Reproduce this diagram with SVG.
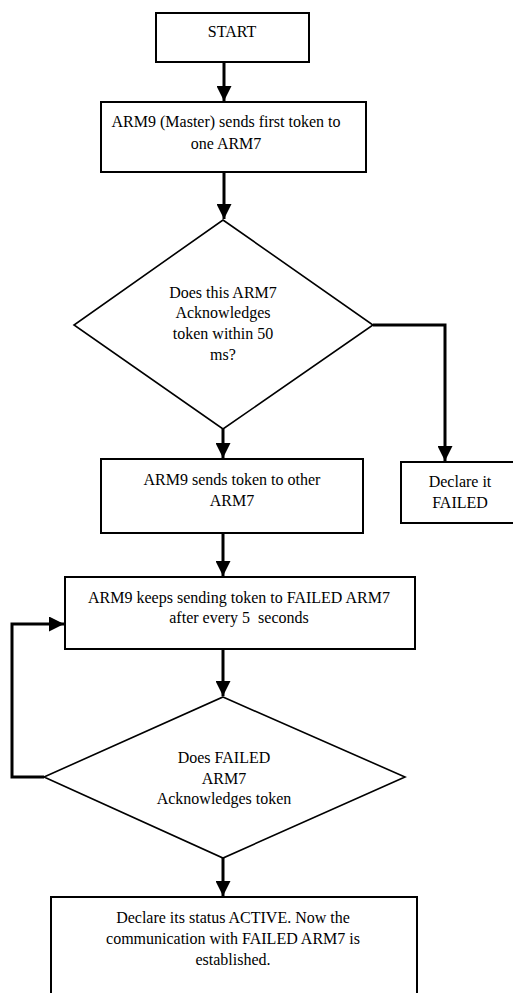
<svg xmlns="http://www.w3.org/2000/svg" width="513" height="993" viewBox="0 0 513 993">
<defs>
<style>
.box{fill:#fff;stroke:#000;stroke-width:2}
.dia{fill:#fff;stroke:#000;stroke-width:1.6}
.t{font-family:"Liberation Serif","Times New Roman",serif;font-size:16px;fill:#000;text-anchor:middle}
.c{fill:none;stroke:#000;stroke-width:3}
</style>
<marker id="ah" viewBox="0 0 10 10" refX="10" refY="5" markerWidth="5" markerHeight="5" markerUnits="strokeWidth" orient="auto">
<path d="M0,0 L10,5 L0,10 Z" fill="#000"/>
</marker>
</defs>
<rect width="513" height="993" fill="#fff"/>
<g id="connectors">
<line class="c" x1="224" y1="62" x2="224" y2="101" marker-end="url(#ah)"/>
<line class="c" x1="224" y1="172" x2="224" y2="219" marker-end="url(#ah)"/>
<line class="c" x1="223" y1="429" x2="223" y2="458" marker-end="url(#ah)"/>
<polyline class="c" points="373,325 445,325 445,461" marker-end="url(#ah)"/>
<line class="c" x1="223" y1="533" x2="223" y2="576" marker-end="url(#ah)"/>
<line class="c" x1="223" y1="649" x2="223" y2="696" marker-end="url(#ah)"/>
<polyline class="c" points="44,777 12,777 12,624 64,624" marker-end="url(#ah)"/>
<line class="c" x1="223" y1="858" x2="223" y2="896" marker-end="url(#ah)"/>
</g>
<g id="start">
<rect class="box" x="156" y="13" width="153" height="49"/>
<text class="t" x="232" y="37">START</text>
</g>
<g id="send-first">
<rect class="box" x="101" y="102" width="265" height="70"/>
<text class="t" x="226" y="127">ARM9 (Master) sends first token to</text>
<text class="t" x="226" y="149">one ARM7</text>
</g>
<g id="decision-ack">
<polygon class="dia" points="223,220 373,325 223,429 74,325"/>
<text class="t" x="223" y="298">Does this ARM7</text>
<text class="t" x="223" y="318">Acknowledges</text>
<text class="t" x="223" y="339">token within 50</text>
<text class="t" x="223" y="360">ms?</text>
</g>
<g id="send-other">
<rect class="box" x="101" y="459" width="262" height="74"/>
<text class="t" x="232" y="485">ARM9 sends token to other</text>
<text class="t" x="232" y="506">ARM7</text>
</g>
<g id="declare-failed">
<rect class="box" x="401" y="462" width="130" height="61"/>
<text class="t" x="460" y="487">Declare it</text>
<text class="t" x="460" y="508">FAILED</text>
</g>
<g id="keep-sending">
<rect class="box" x="65" y="577" width="350" height="72"/>
<text class="t" x="239" y="603">ARM9 keeps sending token to FAILED ARM7</text>
<text class="t" x="239" y="623" xml:space="preserve">after every 5  seconds</text>
</g>
<g id="decision-failed">
<polygon class="dia" points="223,697 405,777 223,858 44,777"/>
<text class="t" x="224" y="763">Does FAILED</text>
<text class="t" x="224" y="784">ARM7</text>
<text class="t" x="224" y="804">Acknowledges token</text>
</g>
<g id="declare-active">
<rect class="box" x="51" y="897" width="366" height="110"/>
<text class="t" x="233" y="923">Declare its status ACTIVE. Now the</text>
<text class="t" x="233" y="944">communication with FAILED ARM7 is</text>
<text class="t" x="233" y="965">established.</text>
</g>
</svg>
